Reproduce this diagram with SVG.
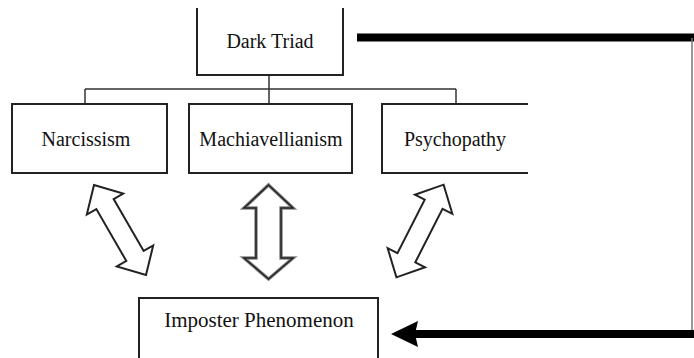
<svg xmlns="http://www.w3.org/2000/svg" width="694" height="358" viewBox="0 0 694 358">
<style>
.box{fill:#fff;stroke:#222;stroke-width:2}
.lbl{font-family:"Liberation Serif","Times New Roman",serif;font-size:20px;fill:#111;text-anchor:middle}
.conn{stroke:#333;stroke-width:1.5;fill:none}
.thick{stroke:#000;stroke-width:8;fill:none}
.dbl{fill:#fff;stroke:#222;stroke-width:2;stroke-linejoin:miter}
</style>
<defs>
<path id="darrowD" d="M0,-52 L21,-30 L10,-30 L10,30 L21,30 L0,52 L-21,30 L-10,30 L-10,-30 L-21,-30 Z"/>
</defs>
<rect width="694" height="358" fill="#fff"/>
<g id="connectors">
<path class="conn" d="M269,75 V89 M85,89 H456 M85,89 V104 M269,89 V104 M456,89 V104"/>
<path class="thick" d="M357,37.5 H694"/>
<path d="M692,38 V334" stroke="#777" stroke-width="1.5" fill="none"/>
<path class="thick" d="M694,334 H414"/>
<polygon points="391,334 418,321 415,334 418,347" fill="#000"/>
<g id="arrow-narcissism" transform="translate(120,230) rotate(-30)"><use href="#darrowD" class="dbl"/></g>
<g id="arrow-machiavellianism"><path d="M268.5,185 L293,208 L281,208 L281,258 L293,258 L268.5,279 L244,258 L256,258 L256,208 L244,208 Z" fill="#fff" stroke="#888" stroke-width="3.5"/><path d="M268.5,185 L293,208 L281,208 L281,258 L293,258 L268.5,279 L244,258 L256,258 L256,208 L244,208 Z" fill="none" stroke="#222" stroke-width="1.5"/></g>
<g id="arrow-psychopathy" transform="translate(420,231) rotate(27)"><use href="#darrowD" class="dbl"/></g>
</g>
<g id="dark-triad">
<path class="box" d="M197,8 V75 H343 V8"/>
<text class="lbl" x="270" y="48">Dark Triad</text>
</g>
<g id="narcissism">
<rect class="box" x="12" y="104" width="155" height="69"/>
<text class="lbl" x="86" y="146">Narcissism</text>
</g>
<g id="machiavellianism">
<rect class="box" x="189" y="104" width="163" height="69"/>
<text class="lbl" x="271" y="146">Machiavellianism</text>
</g>
<g id="psychopathy">
<path class="box" d="M528,104 H382 V173 H528"/>
<text class="lbl" x="455" y="146">Psychopathy</text>
</g>
<g id="imposter-phenomenon">
<rect class="box" x="139" y="298" width="239" height="70"/>
<text class="lbl" x="259" y="327" style="font-size:21px">Imposter Phenomenon</text>
</g>
</svg>
